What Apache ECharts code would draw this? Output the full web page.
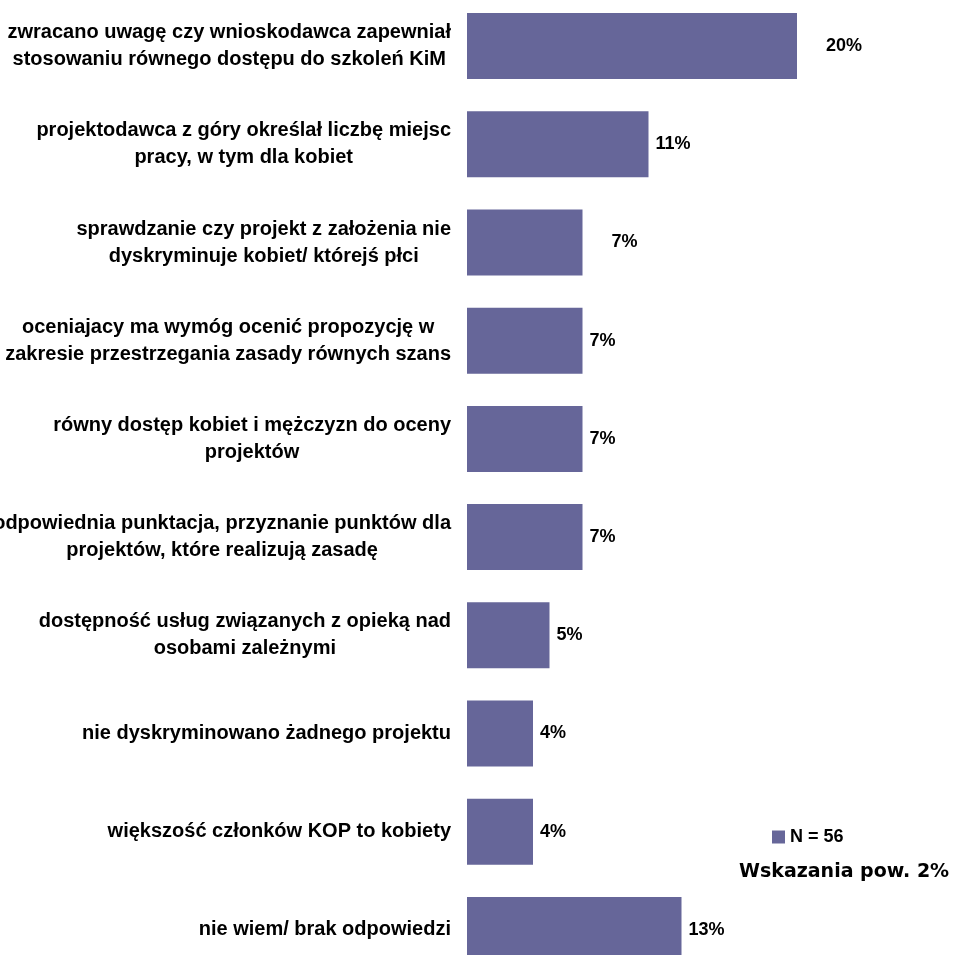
<!DOCTYPE html>
<html lang="pl">
<head>
<meta charset="utf-8">
<title>Zasada równości szans</title>
<script src="https://cdn.jsdelivr.net/npm/echarts@6/dist/echarts.min.js"></script>
<style>
  html, body { margin: 0; padding: 0; background: #ffffff; }
  #chart { width: 955px; height: 955px; }
</style>
</head>
<body>
<div id="chart"></div>
<script>
// Answers, top to bottom; each entry is the lines of its label.
const categories = [
  ['zwracano uwagę czy wnioskodawca zapewniał', 'stosowaniu równego dostępu do szkoleń KiM'],
  ['projektodawca z góry określał liczbę miejsc', 'pracy, w tym dla kobiet'],
  ['sprawdzanie czy projekt z założenia nie', 'dyskryminuje kobiet/ którejś płci'],
  ['oceniajacy ma wymóg ocenić propozycję w', 'zakresie przestrzegania zasady równych szans'],
  ['równy dostęp kobiet i mężczyzn do oceny', 'projektów'],
  ['odpowiednia punktacja, przyznanie punktów dla', 'projektów, które realizują zasadę'],
  ['dostępność usług związanych z opieką nad', 'osobami zależnymi'],
  ['nie dyskryminowano żadnego projektu'],
  ['większość członków KOP to kobiety'],
  ['nie wiem/ brak odpowiedzi']
];

// Share of respondents (%)
const shares = [20, 11, 7, 7, 7, 7, 5, 4, 4, 13];

const seriesName = 'N = 56';
const noteText = 'Wskazania pow. 2%';

// Rows whose value label sits further from the bar end
const farLabelRows = new Set([0, 2]);

const BAR_COLOR = '#666699';
const LABEL_FONT = '"Liberation Sans", Arial, sans-serif';

const chart = echarts.init(document.getElementById('chart'), null, { renderer: 'canvas' });

chart.setOption({
  animation: false,
  backgroundColor: '#ffffff',
  title: {
    text: noteText,
    left: 739,
    top: 863,
    padding: 0,
    textStyle: {
      fontFamily: '"DejaVu Sans", sans-serif',
      fontWeight: 'bold',
      fontSize: 19,
      color: '#000000'
    }
  },
  legend: {
    data: [seriesName],
    left: 772,
    top: 828,
    padding: 0,
    icon: 'rect',
    itemWidth: 13,
    itemHeight: 13,
    itemGap: 5,
    selectedMode: false,
    textStyle: {
      fontFamily: LABEL_FONT,
      fontWeight: 'bold',
      fontSize: 18,
      color: '#000000'
    }
  },
  grid: {
    left: 467,
    right: 158,
    top: -3,
    bottom: -24,
    outerBoundsMode: 'none',
    containLabel: false
  },
  xAxis: {
    type: 'value',
    min: 0,
    max: 20,
    show: false
  },
  yAxis: {
    type: 'category',
    inverse: true,
    data: categories.map(lines => lines.join('\n')),
    axisLine: { show: false },
    axisTick: { show: false },
    splitLine: { show: false },
    axisLabel: {
      interval: 0,
      margin: 16,
      align: 'right',
      hideOverlap: false,
      formatter: value => value.split('\n').map(line => '{c|' + line + '}').join('\n'),
      rich: {
        c: {
          align: 'center',
          fontFamily: LABEL_FONT,
          fontWeight: 'bold',
          fontSize: 20,
          lineHeight: 27,
          color: '#000000'
        }
      }
    }
  },
  series: [{
    name: seriesName,
    type: 'bar',
    barWidth: 66,
    itemStyle: { color: BAR_COLOR },
    data: shares.map((v, i) => ({
      value: v,
      label: { distance: farLabelRows.has(i) ? 29 : 7 }
    })),
    label: {
      show: true,
      position: 'right',
      formatter: '{c}%',
      fontFamily: LABEL_FONT,
      fontWeight: 'bold',
      fontSize: 18,
      color: '#000000'
    }
  }]
});
</script>
</body>
</html>
